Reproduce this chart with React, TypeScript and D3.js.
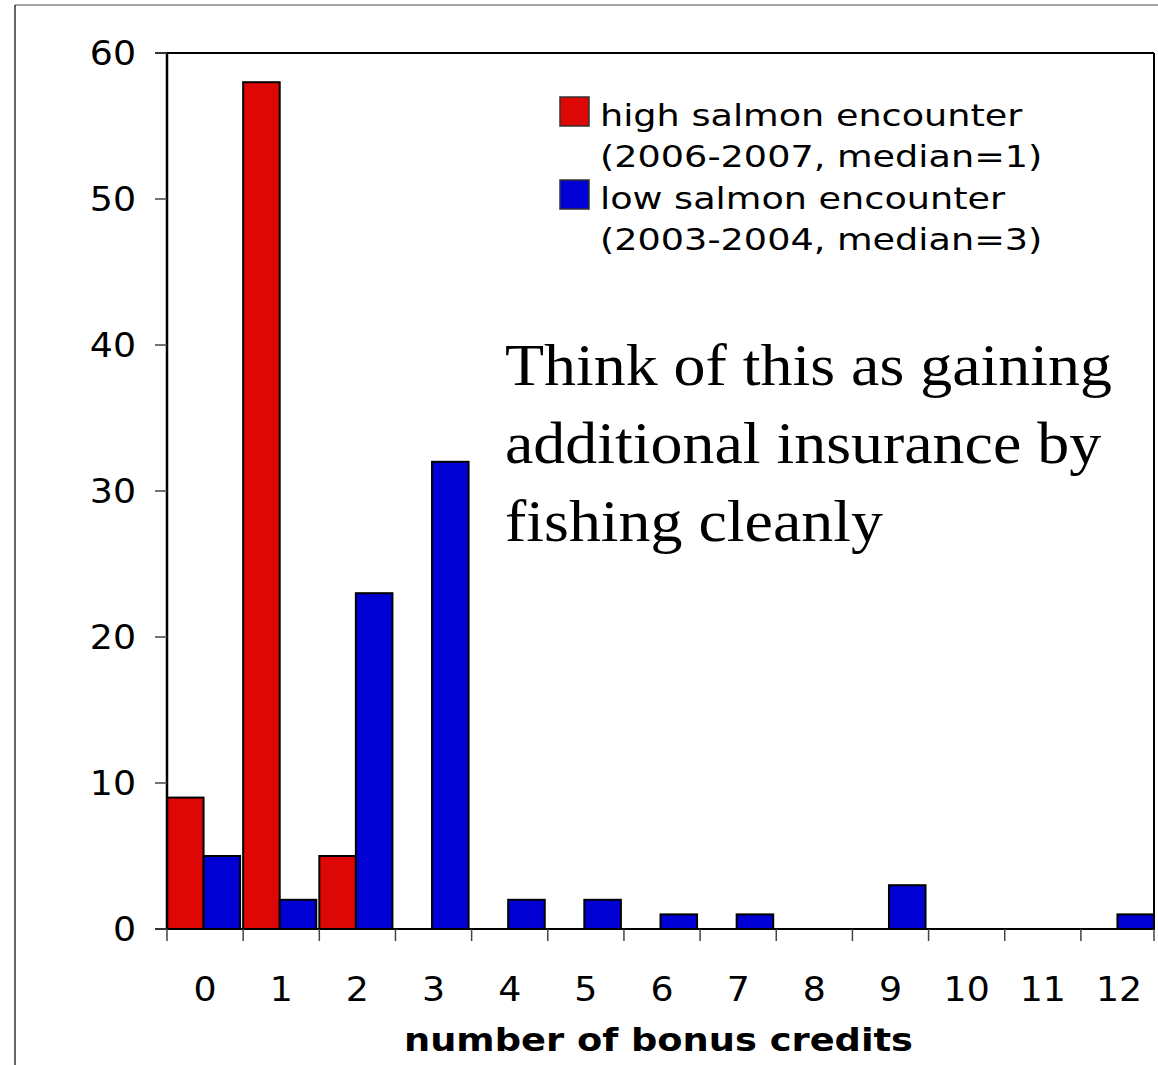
import React from 'react';
import * as d3 from 'd3';

const credits = ['0', '1', '2', '3', '4', '5', '6', '7', '8', '9', '10', '11', '12'];
const highValues = [9, 58, 5, 0, 0, 0, 0, 0, 0, 0, 0, 0, 0];
const lowValues = [5, 2, 23, 32, 2, 2, 1, 1, 0, 3, 0, 0, 1];
const yTicks = [0, 10, 20, 30, 40, 50, 60];
const seriesNames = ['high', 'low'];
const legendLines = [
  ['high salmon encounter', '(2006-2007, median=1)'],
  ['low salmon encounter', '(2003-2004, median=3)']
];
const noteLines = ['Think of this as gaining', 'additional insurance by', 'fishing cleanly'];
const xTitle = 'number of bonus credits';

const width = 1158;
const height = 1065;
const RED = '#dd0806';
const BLUE = '#0000d4';
const sans = '"DejaVu Sans", Verdana, sans-serif';
const serif = '"Liberation Serif", "Times New Roman", serif';

// text drawn a bit wider than the font, like the original slide
const Wide = ({ x, y, sx, children, ...rest }: any) => (
  <text transform={`translate(${x},${y}) scale(${sx},1)`} {...rest}>
    {children}
  </text>
);

const App = () => {
  const margin = { top: 53, right: 4, bottom: 136, left: 167 };
  const innerRight = width - margin.right;
  const innerBottom = height - margin.bottom;

  const x = d3
    .scaleBand<string>()
    .domain(credits)
    .range([margin.left, innerRight])
    .paddingInner(0.04)
    .paddingOuter(0)
    .align(0);
  const step = x.step();

  const xSub = d3
    .scaleBand<string>()
    .domain(seriesNames)
    .range([0, x.bandwidth()]);

  const y = d3.scaleLinear().domain([0, 60]).range([innerBottom, margin.top]);

  const colors: Record<string, string> = { high: RED, low: BLUE };
  const bars = credits.flatMap((c, i) => [
    { cat: c, series: 'high', value: highValues[i] },
    { cat: c, series: 'low', value: lowValues[i] }
  ]).filter(d => d.value > 0);

  const tickXs = credits.map(c => x(c)!).concat([innerRight]);

  return (
    <svg width={width} height={height} style={{ position: 'absolute', left: 0, top: 0, background: '#fff' }}>
      {/* outer frame */}
      <line x1={15} y1={5} x2={width} y2={5} stroke="#888" strokeWidth={1.5} />
      <line x1={15} y1={5} x2={15} y2={height} stroke="#333" strokeWidth={1.5} />

      {/* bars */}
      {bars.map((d, i) => (
        <rect
          key={i}
          x={x(d.cat)! + xSub(d.series)!}
          y={y(d.value)}
          width={xSub.bandwidth()}
          height={y(0) - y(d.value)}
          fill={colors[d.series]}
          stroke="#000"
          strokeWidth={2}
        />
      ))}

      {/* plot frame */}
      <line x1={margin.left - 12} y1={margin.top} x2={innerRight} y2={margin.top} stroke="#000" strokeWidth={2} />
      <line x1={innerRight} y1={margin.top} x2={innerRight} y2={innerBottom} stroke="#000" strokeWidth={2} />
      <line x1={margin.left} y1={margin.top} x2={margin.left} y2={innerBottom} stroke="#000" strokeWidth={2.5} />
      <line x1={margin.left - 12} y1={innerBottom} x2={innerRight} y2={innerBottom} stroke="#000" strokeWidth={2} />

      {/* y axis */}
      {yTicks.map(t => (
        <g key={t}>
          <line x1={margin.left - 12} x2={margin.left} y1={y(t)} y2={y(t)} stroke="#444" strokeWidth={1.5} />
          <Wide x={136} y={y(t) + 12} sx={1.1} textAnchor="end" fontFamily={sans} fontSize={33} fill="#000">
            {t}
          </Wide>
        </g>
      ))}

      {/* x axis */}
      {tickXs.map((tx, i) => (
        <line key={i} x1={tx} x2={tx} y1={innerBottom} y2={innerBottom + 12} stroke="#444" strokeWidth={1.5} />
      ))}
      {credits.map(c => (
        <Wide key={c} x={x(c)! + step / 2} y={1001} sx={1.1} textAnchor="middle" fontFamily={sans} fontSize={33} fill="#000">
          {c}
        </Wide>
      ))}
      <Wide x={(margin.left + innerRight) / 2 - 2} y={1051} sx={1.15} textAnchor="middle" fontFamily={sans} fontSize={32} fontWeight="bold" fill="#000">
        {xTitle}
      </Wide>

      {/* legend */}
      {seriesNames.map((s, i) => (
        <g key={s}>
          <rect x={560} y={97 + i * 83} width={29} height={29} fill={colors[s]} stroke="#333" strokeWidth={1.5} />
          <Wide x={600} y={126 + i * 83} sx={1.22} fontFamily={sans} fontSize={30} fill="#000">{legendLines[i][0]}</Wide>
          <Wide x={600} y={167 + i * 83} sx={1.22} fontFamily={sans} fontSize={30} fill="#000">{legendLines[i][1]}</Wide>
        </g>
      ))}

      {/* note */}
      {noteLines.map((l, i) => (
        <Wide key={i} x={505} y={385 + i * 78} sx={1.065} fontFamily={serif} fontSize={60} fill="#000">
          {l}
        </Wide>
      ))}
    </svg>
  );
};

export default App;
